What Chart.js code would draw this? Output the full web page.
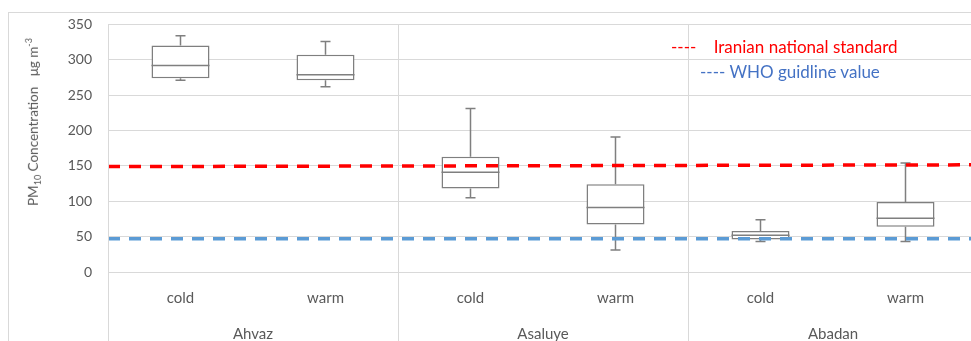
<!DOCTYPE html>
<html>
<head>
<meta charset="utf-8">
<script src="https://cdn.jsdelivr.net/npm/chart.js@4"></script>
<style>
    html, body { margin: 0; padding: 0; background: #fff; overflow: hidden; }
    #wrap { position: relative; width: 990px; height: 350px; }
    #frame { position: absolute; left: 8px; top: 12px; width: 1000px; height: 400px; border: 1px solid #d9d9d9; box-sizing: border-box; }
    #chart { position: absolute; left: 0; top: 0; }
    .ytitle { position: absolute; left: 33px; top: 122px; transform: translate(-50%, -50%) rotate(-90deg); white-space: nowrap; font-family: Lato, sans-serif; font-size: 13.5px; color: #595959; }
    .ytitle sub, .ytitle sup { font-size: 9px; }
    .note { position: absolute; white-space: nowrap; font-family: Lato, sans-serif; font-size: 17px; }
</style>
</head>
<body>
<div id="wrap">
    <div id="frame"></div>
    <canvas id="chart" width="990" height="350"></canvas>
    <div class="ytitle">PM<sub>10</sub> Concentration&nbsp;&nbsp; μg m<sup>-3</sup></div>
    <div class="note" style="left:671px; top:36px; color:#ff0000;">----&nbsp;&nbsp;&nbsp; Iranian national standard</div>
    <div class="note" style="left:700px; top:61px; color:#4472c4;">---- WHO guidline value</div>
</div>
<script>
// categories
const seasons = ["cold", "warm", "cold", "warm", "cold", "warm"];
const cities = ["Ahvaz", "Asaluye", "Abadan"];

// box plot values
const whiskerMin = [271, 262, 105, 31, 43, 43];
const q1 = [274, 271, 118, 67, 46, 64];
const median = [292, 279, 141, 91, 52, 76];
const q3 = [320, 307, 163, 124, 58, 99];
const whiskerMax = [334, 326, 231, 191, 74, 154];

// reference lines (start, end)
const iranStandard = [149, 151.5];
const whoGuideline = [47, 47];

const boxColor = "#7f7f7f";
const gridColor = "#d9d9d9";

// whiskers, caps and medians for the box dataset
const boxPlugin = {
    id: "boxParts",
    afterDatasetDraw(chart, args) {
        if (args.index !== 0) return;
        const ctx = chart.ctx;
        const y = chart.scales.y;
        const meta = chart.getDatasetMeta(0);
        ctx.save();
        ctx.strokeStyle = boxColor;
        ctx.lineWidth = 1.5;
        meta.data.forEach((bar, i) => {
            const cx = bar.x;
            const half = bar.width / 2;
            const cap = 5;
            ctx.beginPath();
            // upper whisker
            ctx.moveTo(cx, y.getPixelForValue(q3[i]));
            ctx.lineTo(cx, y.getPixelForValue(whiskerMax[i]));
            ctx.moveTo(cx - cap, y.getPixelForValue(whiskerMax[i]));
            ctx.lineTo(cx + cap, y.getPixelForValue(whiskerMax[i]));
            // lower whisker
            ctx.moveTo(cx, y.getPixelForValue(q1[i]));
            ctx.lineTo(cx, y.getPixelForValue(whiskerMin[i]));
            ctx.moveTo(cx - cap, y.getPixelForValue(whiskerMin[i]));
            ctx.lineTo(cx + cap, y.getPixelForValue(whiskerMin[i]));
            // median
            ctx.moveTo(cx - half, y.getPixelForValue(median[i]));
            ctx.lineTo(cx + half, y.getPixelForValue(median[i]));
            ctx.stroke();
        });
        ctx.restore();
    }
};

// group separators below the plot (multi-level category axis)
const separatorPlugin = {
    id: "separators",
    afterDraw(chart) {
        const ctx = chart.ctx;
        const x = chart.scales.x;
        const slot = x.getPixelForValue(1) - x.getPixelForValue(0);
        ctx.save();
        ctx.strokeStyle = gridColor;
        ctx.lineWidth = 1;
        for (let i = 0; i <= seasons.length; i += 2) {
            const px = Math.round(x.getPixelForValue(i) - slot / 2) + 0.5;
            ctx.beginPath();
            ctx.moveTo(px, chart.chartArea.top);
            ctx.lineTo(px, chart.height);
            ctx.stroke();
        }
        ctx.restore();
    }
};

const tickFont = { family: "Lato", size: 14 };
const catFont = { family: "Lato", size: 15 };

new Chart(document.getElementById("chart"), {
    data: {
        labels: seasons,
        datasets: [
            {
                type: "bar",
                xAxisID: "x",
                yAxisID: "y",
                data: q1.map((v, i) => [v, q3[i]]),
                backgroundColor: "#ffffff",
                borderColor: boxColor,
                borderWidth: 1.5,
                borderSkipped: false,
                grouped: false,
                barPercentage: 0.4,
                categoryPercentage: 1,
                order: 2,
            },
            {
                type: "line",
                xAxisID: "xl",
                yAxisID: "y",
                data: [{ x: 0, y: iranStandard[0] }, { x: 1, y: iranStandard[1] }],
                borderColor: "#ff0000",
                borderWidth: 3.5,
                borderDash: [12, 9],
                pointRadius: 0,
                order: 1,
            },
            {
                type: "line",
                xAxisID: "xl",
                yAxisID: "y",
                data: [{ x: 0, y: whoGuideline[0] }, { x: 1, y: whoGuideline[1] }],
                borderColor: "#5b9bd5",
                borderWidth: 3.5,
                borderDash: [12, 9],
                pointRadius: 0,
                order: 1,
            },
        ],
    },
    options: {
        responsive: false,
        animation: false,
        layout: { padding: { left: 0, right: 12, top: 22, bottom: 0 } },
        plugins: {
            legend: { display: false },
            tooltip: { enabled: false },
        },
        scales: {
            y: {
                min: 0,
                max: 350,
                ticks: { stepSize: 50, color: "#595959", font: tickFont, padding: 16 },
                grid: { color: gridColor, drawTicks: false },
                border: { display: false },
                afterFit(scale) { scale.width = 108; },
            },
            x: {
                type: "category",
                position: "bottom",
                offset: true,
                ticks: { color: "#595959", font: catFont, padding: 9, maxRotation: 0, autoSkip: false },
                grid: { display: false },
                border: { display: false },
                afterFit(scale) { scale.height = 45; },
            },
            x2: {
                type: "category",
                position: "bottom",
                labels: cities,
                offset: true,
                ticks: { color: "#595959", font: catFont, padding: 0, maxRotation: 0, autoSkip: false },
                grid: { display: false },
                border: { display: false },
                afterFit(scale) { scale.height = 33; },
            },
            xl: {
                type: "linear",
                min: 0,
                max: 1,
                display: false,
            },
        },
    },
    plugins: [boxPlugin, separatorPlugin],
});
</script>
</body>
</html>
